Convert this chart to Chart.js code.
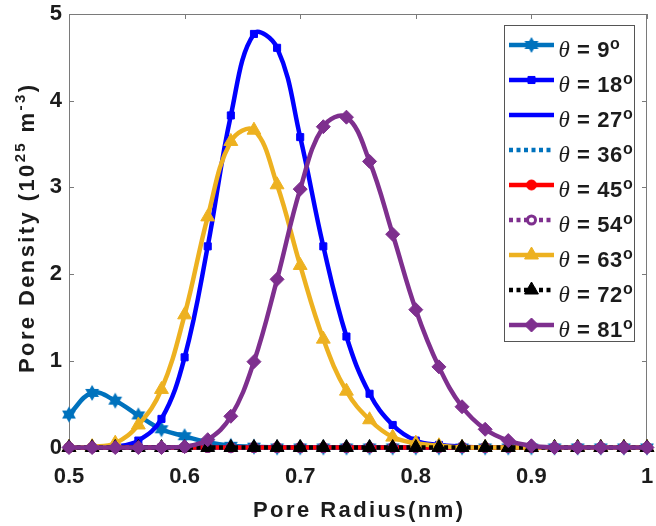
<!DOCTYPE html>
<html>
<head>
<meta charset="utf-8">
<title>Pore density vs pore radius</title>
<script src="https://cdn.jsdelivr.net/npm/chart.js@4.4.1/dist/chart.umd.min.js"></script>
<style>
  html, body { margin: 0; padding: 0; background: #ffffff; }
  #wrap { width: 656px; height: 526px; }
</style>
</head>
<body>
<div id="wrap"><canvas id="chart" width="656" height="526"></canvas></div>
<script>
// Pore radius (nm) at which each curve is sampled
const poreRadius = [0.50, 0.52, 0.54, 0.56, 0.58, 0.60, 0.62, 0.64, 0.66, 0.68, 0.70, 0.72, 0.74,
                    0.76, 0.78, 0.80, 0.82, 0.84, 0.86, 0.88, 0.90, 0.92, 0.94, 0.96, 0.98, 1.00];

// Pore density (10^25 m^-3) for each angle theta
const theta9  = [0.38, 0.63, 0.54, 0.37, 0.21, 0.13, 0.06, 0.02, 0.01, 0, 0, 0, 0,
                 0, 0, 0, 0, 0, 0, 0, 0, 0, 0, 0, 0, 0];
const theta18 = [0, 0, 0.01, 0.08, 0.33, 1.04, 2.32, 3.83, 4.77, 4.61, 3.58, 2.32, 1.28,
                 0.62, 0.26, 0.08, 0.03, 0.01, 0, 0, 0, 0, 0, 0, 0, 0];
const theta27 = [0, 0, 0, 0, 0, 0, 0, 0, 0, 0, 0, 0, 0,
                 0, 0, 0, 0, 0, 0, 0, 0, 0, 0, 0, 0, 0];
const theta36 = [0, 0, 0, 0, 0, 0, 0, 0, 0, 0, 0, 0, 0,
                 0, 0, 0, 0, 0, 0, 0, 0, 0, 0, 0, 0, 0];
const theta45 = [0, 0, 0, 0, 0, 0, 0, 0, 0, 0, 0, 0, 0,
                 0, 0, 0, 0, 0, 0, 0, 0, 0, 0, 0, 0, 0];
const theta54 = [0, 0, 0, 0, 0, 0, 0, 0, 0, 0, 0, 0, 0,
                 0, 0, 0, 0, 0, 0, 0, 0, 0, 0, 0, 0, 0];
const theta63 = [0, 0.01, 0.05, 0.26, 0.67, 1.53, 2.66, 3.53, 3.66, 3.03, 2.10, 1.25, 0.65,
                 0.32, 0.12, 0.05, 0.02, 0, 0, 0, 0, 0, 0, 0, 0, 0];
const theta72 = [0, 0, 0, 0, 0, 0, 0, 0, 0, 0, 0, 0, 0,
                 0, 0, 0, 0, 0, 0, 0, 0, 0, 0, 0, 0, 0];
const theta81 = [0, 0, 0, 0, 0, 0.01, 0.09, 0.36, 0.99, 1.94, 2.98, 3.70, 3.81,
                 3.30, 2.46, 1.59, 0.93, 0.47, 0.21, 0.08, 0.02, 0, 0, 0, 0, 0];

const angleLabels = ['9', '18', '27', '36', '45', '54', '63', '72', '81'];
const xTickLabels = ['0.5', '0.6', '0.7', '0.8', '0.9', '1'];
const yTickLabels = ['0', '1', '2', '3', '4', '5'];

const SANS = '"Liberation Sans", Arial, sans-serif';
const SERIF = '"Liberation Serif", "Times New Roman", serif';
const TEXT = '#1c1c1c';
const FRAME = '#7a7a7a';

// Filled six-pointed star marker
function makeHexagram(color, outer) {
  const size = Math.ceil(outer * 2 + 2);
  const c = document.createElement('canvas');
  c.width = size; c.height = size;
  const g = c.getContext('2d');
  const cx = size / 2, cy = size / 2, inner = outer / Math.sqrt(3);
  g.fillStyle = color;
  g.beginPath();
  for (let k = 0; k < 12; k++) {
    const a = -Math.PI / 2 + k * Math.PI / 6;
    const r = k % 2 ? inner : outer;
    const px = cx + r * Math.cos(a), py = cy + r * Math.sin(a);
    if (k === 0) g.moveTo(px, py); else g.lineTo(px, py);
  }
  g.closePath();
  g.fill();
  return c;
}
const hexagram = makeHexagram('#0072BD', 8);

const DOT = [4, 3.5];
const series = [
  { values: theta9,  color: '#0072BD', dash: [],  style: hexagram,   radius: 8, fill: '#0072BD', edge: 0 },
  { values: theta18, color: '#0000FF', dash: [],  style: 'rect',     radius: 5, fill: '#0000FF', edge: 1 },
  { values: theta27, color: '#0000FF', dash: [],  style: 'circle',   radius: 0, fill: '#0000FF', edge: 0 },
  { values: theta36, color: '#0072BD', dash: DOT, style: 'circle',   radius: 0, fill: '#0072BD', edge: 0 },
  { values: theta45, color: '#FF0000', dash: [],  style: 'circle',   radius: 5, fill: '#FF0000', edge: 1 },
  { values: theta54, color: '#7E2F8E', dash: DOT, style: 'circle',   radius: 4, fill: '#FFFFFF', edge: 3 },
  { values: theta63, color: '#EDB120', dash: [],  style: 'triangle', radius: 8, fill: '#EDB120', edge: 1 },
  { values: theta72, color: '#000000', dash: DOT, style: 'triangle', radius: 8, fill: '#000000', edge: 1 },
  { values: theta81, color: '#7E2F8E', dash: [],  style: 'rectRot',  radius: 7, fill: '#7E2F8E', edge: 1 }
];

const datasets = series.map((s, i) => ({
  label: 'θ = ' + angleLabels[i] + '°',
  data: poreRadius.map((x, j) => ({ x: x, y: s.values[j] })),
  borderColor: s.color,
  backgroundColor: s.fill,
  borderWidth: 4.5,
  borderDash: s.dash,
  tension: 0.4,
  fill: false,
  pointStyle: s.style,
  pointRadius: s.radius,
  pointBackgroundColor: s.fill,
  pointBorderColor: s.color,
  pointBorderWidth: s.edge,
  clip: false,
  order: series.length - i   // later angles are drawn on top
}));

// Text runs (for superscripts), drawn glyph by glyph with an even extra gap
function runsWidth(ctx, runs, gap) {
  let w = 0, n = 0;
  runs.forEach(r => {
    ctx.font = r.font;
    for (const ch of r.text) { w += ctx.measureText(ch).width; n++; }
  });
  return w + gap * Math.max(0, n - 1);
}
function drawRuns(ctx, runs, x, y, gap) {
  let cx = x;
  runs.forEach(r => {
    ctx.font = r.font;
    for (const ch of r.text) {
      ctx.fillText(ch, cx, y + (r.dy || 0));
      cx += ctx.measureText(ch).width + gap;
    }
  });
}
// Spread the runs so that they span the given length, centred on cx
function drawSpread(ctx, runs, cx, y, length) {
  const base = runsWidth(ctx, runs, 0);
  let n = 0;
  runs.forEach(r => { n += [...r.text].length; });
  const gap = Math.max(0, (length - base) / (n - 1));
  drawRuns(ctx, runs, cx - length / 2, y, gap);
}

// Axes box with inward tick marks on all four sides
const boxFrame = {
  id: 'boxFrame',
  beforeDatasetsDraw(chart) {
    const { ctx, chartArea: a, scales } = chart;
    ctx.save();
    ctx.strokeStyle = FRAME;
    ctx.lineWidth = 1;
    ctx.strokeRect(Math.round(a.left) + 0.5, Math.round(a.top) + 0.5,
                   Math.round(a.right - a.left) - 1, Math.round(a.bottom - a.top));
    const tl = 5;
    ctx.beginPath();
    scales.x.ticks.forEach(t => {
      const px = Math.round(scales.x.getPixelForValue(t.value)) + 0.5;
      ctx.moveTo(px, a.bottom); ctx.lineTo(px, a.bottom - tl);
      ctx.moveTo(px, a.top); ctx.lineTo(px, a.top + tl);
    });
    scales.y.ticks.forEach(t => {
      const py = Math.round(scales.y.getPixelForValue(t.value)) + 0.5;
      ctx.moveTo(a.left, py); ctx.lineTo(a.left + tl, py);
      ctx.moveTo(a.right, py); ctx.lineTo(a.right - tl, py);
    });
    ctx.stroke();
    ctx.restore();
  }
};

// Axis titles (with superscripts) and the legend box
const labelsAndLegend = {
  id: 'labelsAndLegend',
  afterDraw(chart) {
    const { ctx, chartArea: a } = chart;
    ctx.save();
    ctx.fillStyle = TEXT;
    ctx.textAlign = 'left';
    ctx.textBaseline = 'alphabetic';

    // x-axis title
    drawSpread(ctx, [{ text: 'Pore Radius(nm)', font: 'bold 22px ' + SANS }],
               (a.left + a.right) / 2, 517, 210);

    // y-axis title
    const big = 'bold 22px ' + SANS, small = 'bold 15px ' + SANS;
    const yRuns = [
      { text: 'Pore Density (10', font: big },
      { text: '25', font: small, dy: -9 },
      { text: ' m', font: big },
      { text: '-3', font: small, dy: -9 },
      { text: ')', font: big }
    ];
    ctx.translate(33.5, 229);
    ctx.rotate(-Math.PI / 2);
    drawSpread(ctx, yRuns, 0, 0, 288);
    ctx.setTransform(1, 0, 0, 1, 0, 0);

    // legend
    const bx = Math.round(a.right) - 143 + 0.5, by = 25.5, bw = 130, bh = 316;
    ctx.fillStyle = '#ffffff';
    ctx.fillRect(bx, by, bw, bh);
    ctx.strokeStyle = '#555555';
    ctx.lineWidth = 1;
    ctx.strokeRect(bx, by, bw, bh);

    series.forEach((s, i) => {
      const y = by + 19.5 + i * 35;
      const x0 = bx + 4.5, x1 = bx + 49.5, xm = (x0 + x1) / 2;
      ctx.save();
      ctx.strokeStyle = s.color;
      ctx.lineWidth = 4.5;
      ctx.setLineDash(s.dash);
      ctx.beginPath();
      ctx.moveTo(x0, y); ctx.lineTo(x1, y);
      ctx.stroke();
      ctx.setLineDash([]);
      if (s.radius > 0) {
        ctx.fillStyle = s.fill;
        ctx.strokeStyle = s.color;
        ctx.lineWidth = s.edge;
        Chart.helpers.drawPoint(ctx, { pointStyle: s.style, radius: s.radius, borderWidth: s.edge, rotation: 0 }, xm, y);
      }
      ctx.restore();

      ctx.fillStyle = TEXT;
      drawRuns(ctx, [
        { text: 'θ', font: 'italic 23px ' + SERIF },
        { text: ' = ' + angleLabels[i], font: 'bold 22px ' + SANS },
        { text: 'o', font: 'bold 16px ' + SANS, dy: -7.5 }
      ], x1 + 4.5, y + 11.5, 0.6);
    });
    ctx.restore();
  }
};

const tickFont = { family: SANS, weight: 'bold', size: 22 };

new Chart(document.getElementById('chart'), {
  type: 'line',
  data: { datasets: datasets },
  options: {
    responsive: false,
    animation: false,
    events: [],
    layout: { padding: { left: 0, right: 5, top: 14, bottom: 0 } },
    plugins: { legend: { display: false }, tooltip: { enabled: false } },
    scales: {
      x: {
        type: 'linear',
        min: 0.5,
        max: 1,
        grid: { display: false, drawTicks: false },
        border: { display: false },
        ticks: {
          stepSize: 0.1,
          padding: 16,
          color: TEXT,
          font: tickFont,
          maxRotation: 0,
          callback: v => xTickLabels.find(l => Math.abs(parseFloat(l) - v) < 1e-6) || ''
        },
        afterFit(scale) { scale.height = 78.5; scale.paddingLeft = 0; scale.paddingRight = 0; }
      },
      y: {
        min: 0,
        max: 5,
        grid: { display: false, drawTicks: false },
        border: { display: false },
        ticks: {
          stepSize: 1,
          padding: 7,
          color: TEXT,
          font: tickFont,
          callback: v => yTickLabels.find(l => Math.abs(parseFloat(l) - v) < 1e-6) || ''
        },
        afterFit(scale) { scale.width = 69; scale.paddingTop = 0; scale.paddingBottom = 0; }
      }
    }
  },
  plugins: [boxFrame, labelsAndLegend]
});
</script>
</body>
</html>
